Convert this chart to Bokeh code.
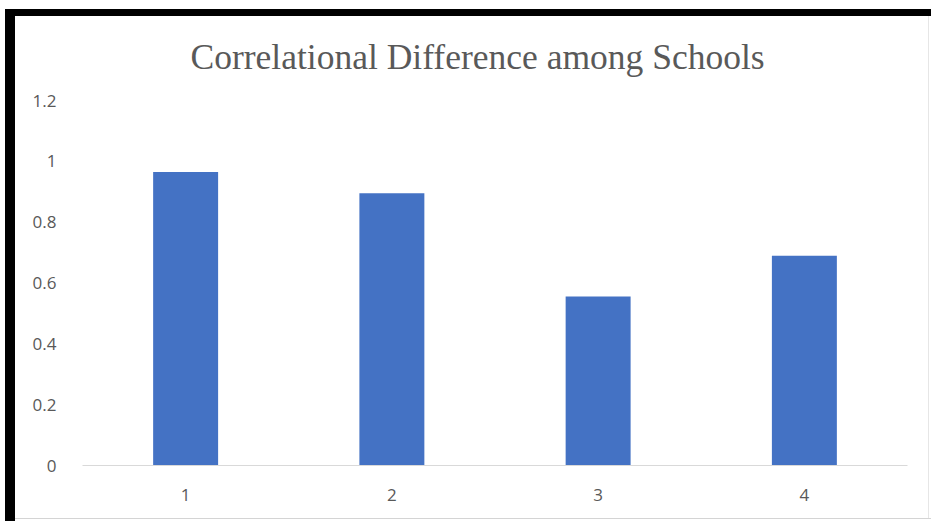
from bokeh.plotting import figure
from bokeh.models import Title
from bokeh.embed import file_html
from bokeh.resources import INLINE

schools = ["1", "2", "3", "4"]
correlation = [0.965, 0.895, 0.556, 0.69]
y_ticks = [0, 0.2, 0.4, 0.6, 0.8, 1, 1.2]
y_tick_labels = {0: "0", 0.2: "0.2", 0.4: "0.4", 0.6: "0.6", 0.8: "0.8", 1: "1", 1.2: "1.2"}
title_text = "Correlational Difference among Schools"

p = figure(x_range=schools, y_range=(0, 1.2), width=931, height=521,
           output_backend="svg", toolbar_location=None,
           min_border_left=82, min_border_right=24, min_border_top=100, min_border_bottom=56)
# picture frame of the screenshot, painted behind a transparent canvas border
p.styles = {
    "background-color": "white",
    "background-image": ("linear-gradient(black, black), linear-gradient(black, black), "
                         "linear-gradient(#d4d4d4, #d4d4d4), linear-gradient(#e6e6e6, #e6e6e6)"),
    "background-size": "926px 7px, 10px 512px, 916px 1px, 1px 502px",
    "background-position": "5px 9px, 5px 9px, 15px 518px, 928px 16px",
    "background-repeat": "no-repeat",
}
p.border_fill_alpha = 0
p.x_range.range_padding = 0
p.title = None
t = Title(text=title_text, align="left", offset=108, standoff=48,
          text_font="Liberation Serif", text_font_size="35.5px",
          text_font_style="normal", text_color="#595959")
p.add_layout(t, "above")

p.vbar(x=schools, top=correlation, width=0.315, color="#4472C4", line_color=None)

p.xgrid.visible = False
p.ygrid.visible = False
p.outline_line_color = None
p.background_fill_color = "white"

p.yaxis.ticker = y_ticks
p.yaxis.major_label_overrides = y_tick_labels
p.yaxis.axis_line_color = None
p.yaxis.major_tick_line_color = None
p.yaxis.minor_tick_line_color = None
p.yaxis.major_label_standoff = 20
p.xaxis.axis_line_color = "#d9d9d9"
p.xaxis.axis_line_width = 1
p.xaxis.major_tick_line_color = None
p.xaxis.minor_tick_line_color = None
p.xaxis.major_label_standoff = 17
for ax in (p.xaxis, p.yaxis):
    ax.major_label_text_font = "Open Sans"
    ax.major_label_text_font_size = "17px"
    ax.major_label_text_color = "#595959"

open("out.html", "w").write(file_html(p, INLINE))
